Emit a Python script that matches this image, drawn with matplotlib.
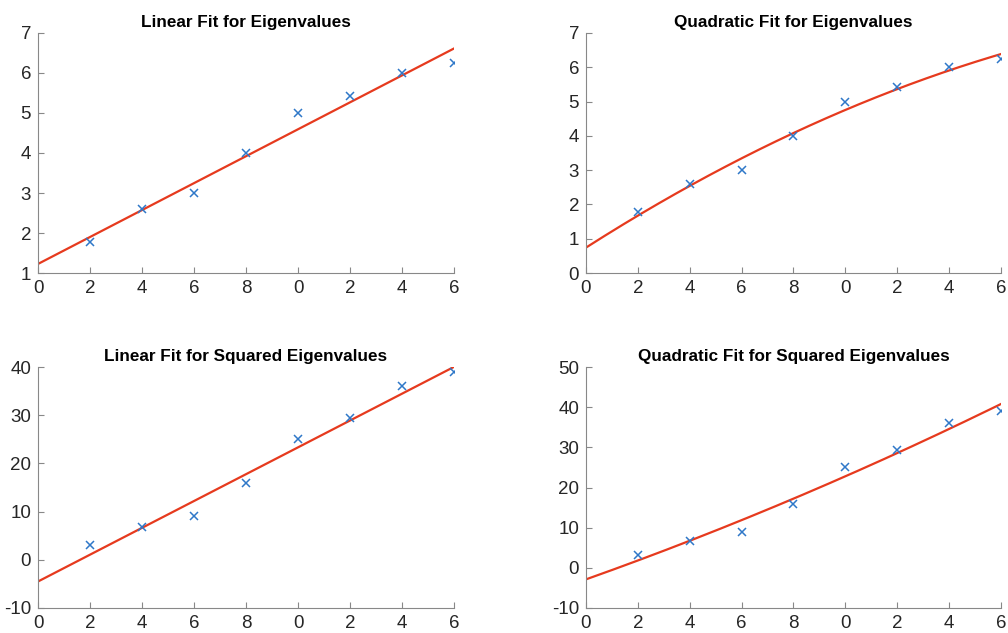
import numpy as np
import matplotlib
matplotlib.use("Agg")
import matplotlib.pyplot as plt

plt.rcParams['font.family'] = ['Liberation Sans', 'DejaVu Sans']
plt.rcParams['axes.unicode_minus'] = False

x = np.array([2, 4, 6, 8, 10, 12, 14, 16])
eig = np.array([1.78, 2.6, 3.0, 4.0, 5.0, 5.42, 6.0, 6.25])
eig_sq = eig ** 2
xtick_vals = [0, 2, 4, 6, 8, 10, 12, 14, 16]
xtick_labels = ['0', '2', '4', '6', '8', '0', '2', '4', '6']

titles = ['Linear Fit for Eigenvalues', 'Quadratic Fit for Eigenvalues',
          'Linear Fit for Squared Eigenvalues', 'Quadratic Fit for Squared Eigenvalues']
ylims = [(1, 7), (0, 7), (-10, 40), (-10, 50)]
yticks = [range(1, 8), range(0, 8), range(-10, 41, 10), range(-10, 51, 10)]
datasets = [eig, eig, eig_sq, eig_sq]
degrees = [1, 2, 1, 2]

positions = [
    [0.0377, 0.5687, 0.4127, 0.3792],
    [0.5813, 0.5687, 0.4117, 0.3792],
    [0.0377, 0.0395, 0.4127, 0.3807],
    [0.5813, 0.0395, 0.4117, 0.3807],
]

fig = plt.figure(figsize=(10.08, 6.33), dpi=100)
xx = np.linspace(0, 16, 200)
blue = '#2F78C8'
red = '#E63A1E'
for pos, title, yl, yt, y, deg in zip(positions, titles, ylims, yticks, datasets, degrees):
    ax = fig.add_axes(pos)
    coef = np.polyfit(x, y, deg)
    ax.plot(xx, np.polyval(coef, xx), color=red, lw=1.6, zorder=2)
    ax.plot(x, y, 'x', color=blue, ms=6, mew=1.1, zorder=3)
    ax.set_xlim(0, 16)
    ax.set_ylim(*yl)
    ax.set_xticks(xtick_vals)
    ax.set_xticklabels(xtick_labels)
    ax.set_yticks(list(yt))
    ax.spines['top'].set_visible(False)
    ax.spines['right'].set_visible(False)
    for s in ['left', 'bottom']:
        ax.spines[s].set_color('#888888')
        ax.spines[s].set_linewidth(0.8)
    ax.tick_params(direction='in', length=4, width=0.8, color='#888888',
                   labelsize=13.5, labelcolor='#262626', pad=5)
    ax.set_title(title, fontsize=12.3, fontweight='bold', pad=4)

fig.savefig('out.png', dpi=100)
